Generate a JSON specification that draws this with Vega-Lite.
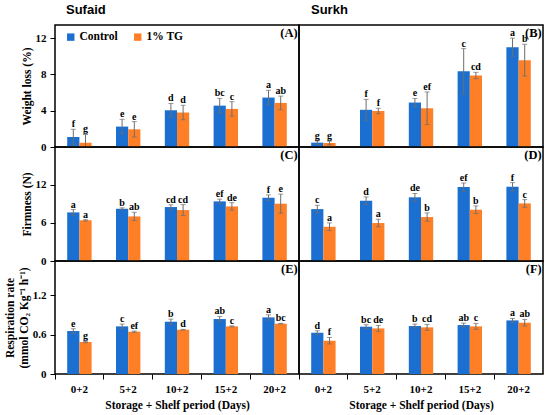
{
  "$schema": "https://vega.github.io/schema/vega-lite/v6.json",
  "padding": {"left": 4, "top": 3, "right": 5, "bottom": 3},
  "datasets": {
    "d": [
      {"p": "A", "day": "0+2", "trt": "Control", "m": 1.1, "e": 0.85, "lab": "f"},
      {"p": "A", "day": "0+2", "trt": "1% TG", "m": 0.48, "e": 0.9, "lab": "g"},
      {"p": "A", "day": "5+2", "trt": "Control", "m": 2.25, "e": 0.8, "lab": "e"},
      {"p": "A", "day": "5+2", "trt": "1% TG", "m": 1.95, "e": 0.85, "lab": "e"},
      {"p": "A", "day": "10+2", "trt": "Control", "m": 4.05, "e": 0.75, "lab": "d"},
      {"p": "A", "day": "10+2", "trt": "1% TG", "m": 3.8, "e": 0.8, "lab": "d"},
      {"p": "A", "day": "15+2", "trt": "Control", "m": 4.56, "e": 0.8, "lab": "bc"},
      {"p": "A", "day": "15+2", "trt": "1% TG", "m": 4.2, "e": 0.8, "lab": "c"},
      {"p": "A", "day": "20+2", "trt": "Control", "m": 5.45, "e": 0.8, "lab": "a"},
      {"p": "A", "day": "20+2", "trt": "1% TG", "m": 4.86, "e": 0.75, "lab": "ab"},
      {"p": "B", "day": "0+2", "trt": "Control", "m": 0.48, "e": 0.2, "lab": "g"},
      {"p": "B", "day": "0+2", "trt": "1% TG", "m": 0.44, "e": 0.2, "lab": "g"},
      {"p": "B", "day": "5+2", "trt": "Control", "m": 4.1, "e": 1.15, "lab": "f"},
      {"p": "B", "day": "5+2", "trt": "1% TG", "m": 3.97, "e": 0.3, "lab": "f"},
      {"p": "B", "day": "10+2", "trt": "Control", "m": 4.9, "e": 0.45, "lab": "e"},
      {"p": "B", "day": "10+2", "trt": "1% TG", "m": 4.27, "e": 1.8, "lab": "ef"},
      {"p": "B", "day": "15+2", "trt": "Control", "m": 8.35, "e": 2.5, "lab": "c"},
      {"p": "B", "day": "15+2", "trt": "1% TG", "m": 7.88, "e": 0.35, "lab": "cd"},
      {"p": "B", "day": "20+2", "trt": "Control", "m": 11.0, "e": 1.0, "lab": "a"},
      {"p": "B", "day": "20+2", "trt": "1% TG", "m": 9.57, "e": 1.75, "lab": "b"},
      {"p": "C", "day": "0+2", "trt": "Control", "m": 7.63, "e": 0.45, "lab": "a"},
      {"p": "C", "day": "0+2", "trt": "1% TG", "m": 6.38, "e": 0.1, "lab": "a"},
      {"p": "C", "day": "5+2", "trt": "Control", "m": 8.2, "e": 0.15, "lab": "b"},
      {"p": "C", "day": "5+2", "trt": "1% TG", "m": 7.0, "e": 0.65, "lab": "ab"},
      {"p": "C", "day": "10+2", "trt": "Control", "m": 8.47, "e": 0.35, "lab": "cd"},
      {"p": "C", "day": "10+2", "trt": "1% TG", "m": 8.0, "e": 0.85, "lab": "cd"},
      {"p": "C", "day": "15+2", "trt": "Control", "m": 9.36, "e": 0.35, "lab": "ef"},
      {"p": "C", "day": "15+2", "trt": "1% TG", "m": 8.57, "e": 0.6, "lab": "de"},
      {"p": "C", "day": "20+2", "trt": "Control", "m": 9.93, "e": 0.45, "lab": "f"},
      {"p": "C", "day": "20+2", "trt": "1% TG", "m": 9.0, "e": 1.5, "lab": "e"},
      {"p": "D", "day": "0+2", "trt": "Control", "m": 8.15, "e": 0.6, "lab": "c"},
      {"p": "D", "day": "0+2", "trt": "1% TG", "m": 5.38, "e": 0.6, "lab": "a"},
      {"p": "D", "day": "5+2", "trt": "Control", "m": 9.46, "e": 0.6, "lab": "d"},
      {"p": "D", "day": "5+2", "trt": "1% TG", "m": 5.96, "e": 0.6, "lab": "a"},
      {"p": "D", "day": "10+2", "trt": "Control", "m": 10.0, "e": 0.6, "lab": "de"},
      {"p": "D", "day": "10+2", "trt": "1% TG", "m": 6.9, "e": 0.65, "lab": "b"},
      {"p": "D", "day": "15+2", "trt": "Control", "m": 11.6, "e": 0.65, "lab": "ef"},
      {"p": "D", "day": "15+2", "trt": "1% TG", "m": 8.05, "e": 0.6, "lab": "b"},
      {"p": "D", "day": "20+2", "trt": "Control", "m": 11.66, "e": 0.65, "lab": "f"},
      {"p": "D", "day": "20+2", "trt": "1% TG", "m": 9.04, "e": 0.6, "lab": "c"},
      {"p": "E", "day": "0+2", "trt": "Control", "m": 0.656, "e": 0.035, "lab": "e"},
      {"p": "E", "day": "0+2", "trt": "1% TG", "m": 0.488, "e": 0.01, "lab": "g"},
      {"p": "E", "day": "5+2", "trt": "Control", "m": 0.727, "e": 0.035, "lab": "c"},
      {"p": "E", "day": "5+2", "trt": "1% TG", "m": 0.646, "e": 0.01, "lab": "ef"},
      {"p": "E", "day": "10+2", "trt": "Control", "m": 0.798, "e": 0.04, "lab": "b"},
      {"p": "E", "day": "10+2", "trt": "1% TG", "m": 0.676, "e": 0.005, "lab": "d"},
      {"p": "E", "day": "15+2", "trt": "Control", "m": 0.839, "e": 0.04, "lab": "ab"},
      {"p": "E", "day": "15+2", "trt": "1% TG", "m": 0.727, "e": 0.008, "lab": "c"},
      {"p": "E", "day": "20+2", "trt": "Control", "m": 0.864, "e": 0.04, "lab": "a"},
      {"p": "E", "day": "20+2", "trt": "1% TG", "m": 0.768, "e": 0.005, "lab": "bc"},
      {"p": "F", "day": "0+2", "trt": "Control", "m": 0.63, "e": 0.03, "lab": "d"},
      {"p": "F", "day": "0+2", "trt": "1% TG", "m": 0.508, "e": 0.05, "lab": "f"},
      {"p": "F", "day": "5+2", "trt": "Control", "m": 0.722, "e": 0.03, "lab": "bc"},
      {"p": "F", "day": "5+2", "trt": "1% TG", "m": 0.696, "e": 0.045, "lab": "de"},
      {"p": "F", "day": "10+2", "trt": "Control", "m": 0.732, "e": 0.03, "lab": "b"},
      {"p": "F", "day": "10+2", "trt": "1% TG", "m": 0.712, "e": 0.045, "lab": "cd"},
      {"p": "F", "day": "15+2", "trt": "Control", "m": 0.747, "e": 0.03, "lab": "ab"},
      {"p": "F", "day": "15+2", "trt": "1% TG", "m": 0.727, "e": 0.045, "lab": "c"},
      {"p": "F", "day": "20+2", "trt": "Control", "m": 0.818, "e": 0.03, "lab": "a"},
      {"p": "F", "day": "20+2", "trt": "1% TG", "m": 0.783, "e": 0.05, "lab": "ab"}
    ]
  },
  "columns": 2,
  "spacing": 0,
  "bounds": "flush",
  "resolve": {"legend": {"color": "independent"}},
  "concat": [
    {
      "width": 244, "height": 122,
      "title": {"text": "Sufaid", "frame": "group", "dx": 11, "offset": 8},
      "data": {"name": "d"},
      "transform": [
        {"filter": "datum.p == 'A'"},
        {"calculate": "datum.m - datum.e", "as": "lo"},
        {"calculate": "datum.m + datum.e", "as": "hi"}
      ],
      "encoding": {
        "x": {"field": "day", "type": "nominal", "sort": ["0+2", "5+2", "10+2", "15+2", "20+2"], "scale": {"paddingInner": 0, "paddingOuter": 0}, "axis": null},
        "xOffset": {"field": "trt", "type": "nominal", "sort": ["Control", "1% TG"], "scale": {"paddingInner": 0, "paddingOuter": 1.08}}
      },
      "layer": [
        {"mark": "bar", "encoding": {
          "y": {"field": "m", "type": "quantitative", "title": "Weight loss (%)", "scale": {"domain": [0, 13.45], "nice": false, "clamp": true}, "axis": {"values": [0, 2, 4, 6, 8, 10, 12], "labelOverlap": false}},
          "color": {"field": "trt", "type": "nominal", "scale": {"domain": ["Control", "1% TG"], "range": ["#1A6FD0", "#FF7F27"]},
            "legend": {"orient": "none", "legendX": 10, "legendY": 6, "direction": "horizontal", "title": null, "symbolType": "square", "symbolSize": 55, "symbolStrokeWidth": 0, "symbolOpacity": 1, "labelFont": "Liberation Serif", "labelFontWeight": "bold", "labelFontSize": 11.5, "labelColor": "#000", "columnPadding": 14, "labelOffset": 3}}
        }},
        {"mark": {"type": "rule", "color": "#6e6e6e"}, "encoding": {"y": {"field": "lo", "type": "quantitative"}, "y2": {"field": "hi"}}},
        {"mark": {"type": "tick", "color": "#6e6e6e", "size": 5, "thickness": 1}, "encoding": {"y": {"field": "lo", "type": "quantitative"}}},
        {"mark": {"type": "tick", "color": "#6e6e6e", "size": 5, "thickness": 1}, "encoding": {"y": {"field": "hi", "type": "quantitative"}}},
        {"mark": {"type": "text", "baseline": "bottom", "dy": 0, "font": "Liberation Serif", "fontWeight": "bold", "fontSize": 10}, "encoding": {"y": {"field": "hi", "type": "quantitative"}, "text": {"field": "lab"}}},
        {"transform": [{"filter": "datum.day == '20+2' && datum.trt == '1% TG'"}], "mark": {"type": "text", "align": "right", "baseline": "top", "dx": 17, "dy": 2, "font": "Liberation Serif", "fontWeight": "bold", "fontSize": 12.5}, "encoding": {"y": {"datum": 13.45}, "text": {"value": "(A)"}}}
      ]
    },
    {
      "width": 244, "height": 122,
      "title": {"text": "Surkh", "frame": "group", "dx": 12, "offset": 8},
      "data": {"name": "d"},
      "transform": [
        {"filter": "datum.p == 'B'"},
        {"calculate": "datum.m - datum.e", "as": "lo"},
        {"calculate": "datum.m + datum.e", "as": "hi"}
      ],
      "encoding": {
        "x": {"field": "day", "type": "nominal", "sort": ["0+2", "5+2", "10+2", "15+2", "20+2"], "scale": {"paddingInner": 0, "paddingOuter": 0}, "axis": null},
        "xOffset": {"field": "trt", "type": "nominal", "sort": ["Control", "1% TG"], "scale": {"paddingInner": 0, "paddingOuter": 1.08}}
      },
      "layer": [
        {"mark": "bar", "encoding": {
          "y": {"field": "m", "type": "quantitative", "scale": {"domain": [0, 13.45], "nice": false, "clamp": true}, "axis": null},
          "color": {"field": "trt", "type": "nominal", "scale": {"domain": ["Control", "1% TG"], "range": ["#1A6FD0", "#FF7F27"]}, "legend": null}
        }},
        {"mark": {"type": "rule", "color": "#6e6e6e"}, "encoding": {"y": {"field": "lo", "type": "quantitative", "axis": null}, "y2": {"field": "hi"}}},
        {"mark": {"type": "tick", "color": "#6e6e6e", "size": 5, "thickness": 1}, "encoding": {"y": {"field": "lo", "type": "quantitative", "axis": null}}},
        {"mark": {"type": "tick", "color": "#6e6e6e", "size": 5, "thickness": 1}, "encoding": {"y": {"field": "hi", "type": "quantitative", "axis": null}}},
        {"mark": {"type": "text", "baseline": "bottom", "dy": 0, "font": "Liberation Serif", "fontWeight": "bold", "fontSize": 10}, "encoding": {"y": {"field": "hi", "type": "quantitative", "axis": null}, "text": {"field": "lab"}}},
        {"transform": [{"filter": "datum.day == '20+2' && datum.trt == '1% TG'"}], "mark": {"type": "text", "align": "right", "baseline": "top", "dx": 17, "dy": 2, "font": "Liberation Serif", "fontWeight": "bold", "fontSize": 12.5}, "encoding": {"y": {"datum": 13.45, "axis": null}, "text": {"value": "(B)"}}}
      ]
    },
    {
      "width": 244, "height": 114,
      "data": {"name": "d"},
      "transform": [
        {"filter": "datum.p == 'C'"},
        {"calculate": "datum.m - datum.e", "as": "lo"},
        {"calculate": "datum.m + datum.e", "as": "hi"}
      ],
      "encoding": {
        "x": {"field": "day", "type": "nominal", "sort": ["0+2", "5+2", "10+2", "15+2", "20+2"], "scale": {"paddingInner": 0, "paddingOuter": 0}, "axis": null},
        "xOffset": {"field": "trt", "type": "nominal", "sort": ["Control", "1% TG"], "scale": {"paddingInner": 0, "paddingOuter": 1.08}}
      },
      "layer": [
        {"mark": "bar", "encoding": {
          "y": {"field": "m", "type": "quantitative", "title": "Firmness (N)", "scale": {"domain": [0, 17.9], "nice": false, "clamp": true}, "axis": {"values": [0, 3, 6, 9, 12, 15], "labelOverlap": false}},
          "color": {"field": "trt", "type": "nominal", "scale": {"domain": ["Control", "1% TG"], "range": ["#1A6FD0", "#FF7F27"]}, "legend": null}
        }},
        {"mark": {"type": "rule", "color": "#6e6e6e"}, "encoding": {"y": {"field": "lo", "type": "quantitative"}, "y2": {"field": "hi"}}},
        {"mark": {"type": "tick", "color": "#6e6e6e", "size": 5, "thickness": 1}, "encoding": {"y": {"field": "lo", "type": "quantitative"}}},
        {"mark": {"type": "tick", "color": "#6e6e6e", "size": 5, "thickness": 1}, "encoding": {"y": {"field": "hi", "type": "quantitative"}}},
        {"mark": {"type": "text", "baseline": "bottom", "dy": 0, "font": "Liberation Serif", "fontWeight": "bold", "fontSize": 10}, "encoding": {"y": {"field": "hi", "type": "quantitative"}, "text": {"field": "lab"}}},
        {"transform": [{"filter": "datum.day == '20+2' && datum.trt == '1% TG'"}], "mark": {"type": "text", "align": "right", "baseline": "top", "dx": 17, "dy": 2, "font": "Liberation Serif", "fontWeight": "bold", "fontSize": 12.5}, "encoding": {"y": {"datum": 17.9}, "text": {"value": "(C)"}}}
      ]
    },
    {
      "width": 244, "height": 114,
      "data": {"name": "d"},
      "transform": [
        {"filter": "datum.p == 'D'"},
        {"calculate": "datum.m - datum.e", "as": "lo"},
        {"calculate": "datum.m + datum.e", "as": "hi"}
      ],
      "encoding": {
        "x": {"field": "day", "type": "nominal", "sort": ["0+2", "5+2", "10+2", "15+2", "20+2"], "scale": {"paddingInner": 0, "paddingOuter": 0}, "axis": null},
        "xOffset": {"field": "trt", "type": "nominal", "sort": ["Control", "1% TG"], "scale": {"paddingInner": 0, "paddingOuter": 1.08}}
      },
      "layer": [
        {"mark": "bar", "encoding": {
          "y": {"field": "m", "type": "quantitative", "scale": {"domain": [0, 17.9], "nice": false, "clamp": true}, "axis": null},
          "color": {"field": "trt", "type": "nominal", "scale": {"domain": ["Control", "1% TG"], "range": ["#1A6FD0", "#FF7F27"]}, "legend": null}
        }},
        {"mark": {"type": "rule", "color": "#6e6e6e"}, "encoding": {"y": {"field": "lo", "type": "quantitative", "axis": null}, "y2": {"field": "hi"}}},
        {"mark": {"type": "tick", "color": "#6e6e6e", "size": 5, "thickness": 1}, "encoding": {"y": {"field": "lo", "type": "quantitative", "axis": null}}},
        {"mark": {"type": "tick", "color": "#6e6e6e", "size": 5, "thickness": 1}, "encoding": {"y": {"field": "hi", "type": "quantitative", "axis": null}}},
        {"mark": {"type": "text", "baseline": "bottom", "dy": 0, "font": "Liberation Serif", "fontWeight": "bold", "fontSize": 10}, "encoding": {"y": {"field": "hi", "type": "quantitative", "axis": null}, "text": {"field": "lab"}}},
        {"transform": [{"filter": "datum.day == '20+2' && datum.trt == '1% TG'"}], "mark": {"type": "text", "align": "right", "baseline": "top", "dx": 17, "dy": 2, "font": "Liberation Serif", "fontWeight": "bold", "fontSize": 12.5}, "encoding": {"y": {"datum": 17.9, "axis": null}, "text": {"value": "(D)"}}}
      ]
    },
    {
      "width": 244, "height": 113,
      "data": {"name": "d"},
      "transform": [
        {"filter": "datum.p == 'E'"},
        {"calculate": "datum.m - datum.e", "as": "lo"},
        {"calculate": "datum.m + datum.e", "as": "hi"}
      ],
      "encoding": {
        "x": {"field": "day", "type": "nominal", "sort": ["0+2", "5+2", "10+2", "15+2", "20+2"], "scale": {"paddingInner": 0, "paddingOuter": 0},
          "axis": {"title": "Storage + Shelf period (Days)", "labelAngle": 0, "bandPosition": 0, "labelPadding": 4, "titlePadding": 5}},
        "xOffset": {"field": "trt", "type": "nominal", "sort": ["Control", "1% TG"], "scale": {"paddingInner": 0, "paddingOuter": 1.08}}
      },
      "layer": [
        {"mark": "bar", "encoding": {
          "y": {"field": "m", "type": "quantitative", "title": ["Respiration rate", "(mmol CO₂ Kg⁻¹ h⁻¹)"], "scale": {"domain": [0, 1.725], "nice": false, "clamp": true}, "axis": {"values": [0, 0.3, 0.6, 0.9, 1.2, 1.5], "format": "~g", "labelOverlap": false}},
          "color": {"field": "trt", "type": "nominal", "scale": {"domain": ["Control", "1% TG"], "range": ["#1A6FD0", "#FF7F27"]}, "legend": null}
        }},
        {"mark": {"type": "rule", "color": "#6e6e6e"}, "encoding": {"y": {"field": "lo", "type": "quantitative"}, "y2": {"field": "hi"}}},
        {"mark": {"type": "tick", "color": "#6e6e6e", "size": 5, "thickness": 1}, "encoding": {"y": {"field": "lo", "type": "quantitative"}}},
        {"mark": {"type": "tick", "color": "#6e6e6e", "size": 5, "thickness": 1}, "encoding": {"y": {"field": "hi", "type": "quantitative"}}},
        {"mark": {"type": "text", "baseline": "bottom", "dy": 0, "font": "Liberation Serif", "fontWeight": "bold", "fontSize": 10}, "encoding": {"y": {"field": "hi", "type": "quantitative"}, "text": {"field": "lab"}}},
        {"transform": [{"filter": "datum.day == '20+2' && datum.trt == '1% TG'"}], "mark": {"type": "text", "align": "right", "baseline": "top", "dx": 17, "dy": 2, "font": "Liberation Serif", "fontWeight": "bold", "fontSize": 12.5}, "encoding": {"y": {"datum": 1.725}, "text": {"value": "(E)"}}}
      ]
    },
    {
      "width": 244, "height": 113,
      "data": {"name": "d"},
      "transform": [
        {"filter": "datum.p == 'F'"},
        {"calculate": "datum.m - datum.e", "as": "lo"},
        {"calculate": "datum.m + datum.e", "as": "hi"}
      ],
      "encoding": {
        "x": {"field": "day", "type": "nominal", "sort": ["0+2", "5+2", "10+2", "15+2", "20+2"], "scale": {"paddingInner": 0, "paddingOuter": 0},
          "axis": {"title": "Storage + Shelf period (Days)", "labelAngle": 0, "bandPosition": 0, "labelPadding": 4, "titlePadding": 5}},
        "xOffset": {"field": "trt", "type": "nominal", "sort": ["Control", "1% TG"], "scale": {"paddingInner": 0, "paddingOuter": 1.08}}
      },
      "layer": [
        {"mark": "bar", "encoding": {
          "y": {"field": "m", "type": "quantitative", "scale": {"domain": [0, 1.725], "nice": false, "clamp": true}, "axis": null},
          "color": {"field": "trt", "type": "nominal", "scale": {"domain": ["Control", "1% TG"], "range": ["#1A6FD0", "#FF7F27"]}, "legend": null}
        }},
        {"mark": {"type": "rule", "color": "#6e6e6e"}, "encoding": {"y": {"field": "lo", "type": "quantitative", "axis": null}, "y2": {"field": "hi"}}},
        {"mark": {"type": "tick", "color": "#6e6e6e", "size": 5, "thickness": 1}, "encoding": {"y": {"field": "lo", "type": "quantitative", "axis": null}}},
        {"mark": {"type": "tick", "color": "#6e6e6e", "size": 5, "thickness": 1}, "encoding": {"y": {"field": "hi", "type": "quantitative", "axis": null}}},
        {"mark": {"type": "text", "baseline": "bottom", "dy": 0, "font": "Liberation Serif", "fontWeight": "bold", "fontSize": 10}, "encoding": {"y": {"field": "hi", "type": "quantitative", "axis": null}, "text": {"field": "lab"}}},
        {"transform": [{"filter": "datum.day == '20+2' && datum.trt == '1% TG'"}], "mark": {"type": "text", "align": "right", "baseline": "top", "dx": 17, "dy": 2, "font": "Liberation Serif", "fontWeight": "bold", "fontSize": 12.5}, "encoding": {"y": {"datum": 1.725, "axis": null}, "text": {"value": "(F)"}}}
      ]
    }
  ],
  "config": {
    "font": "Liberation Serif",
    "view": {"stroke": "#000", "strokeWidth": 1.5},
    "axis": {"labelFont": "Liberation Serif", "labelFontWeight": "bold", "labelFontSize": 11, "labelColor": "#000", "titleFont": "Liberation Serif", "titleFontWeight": "bold", "titleFontSize": 11.5, "titleColor": "#000", "tickColor": "#000", "grid": false, "domain": false, "tickSize": 5, "labelPadding": 4, "titlePadding": 3, "labelOverlap": false},
    "title": {"font": "Liberation Sans", "fontWeight": "bold", "fontSize": 13, "anchor": "start", "color": "#000"}
  }
}
